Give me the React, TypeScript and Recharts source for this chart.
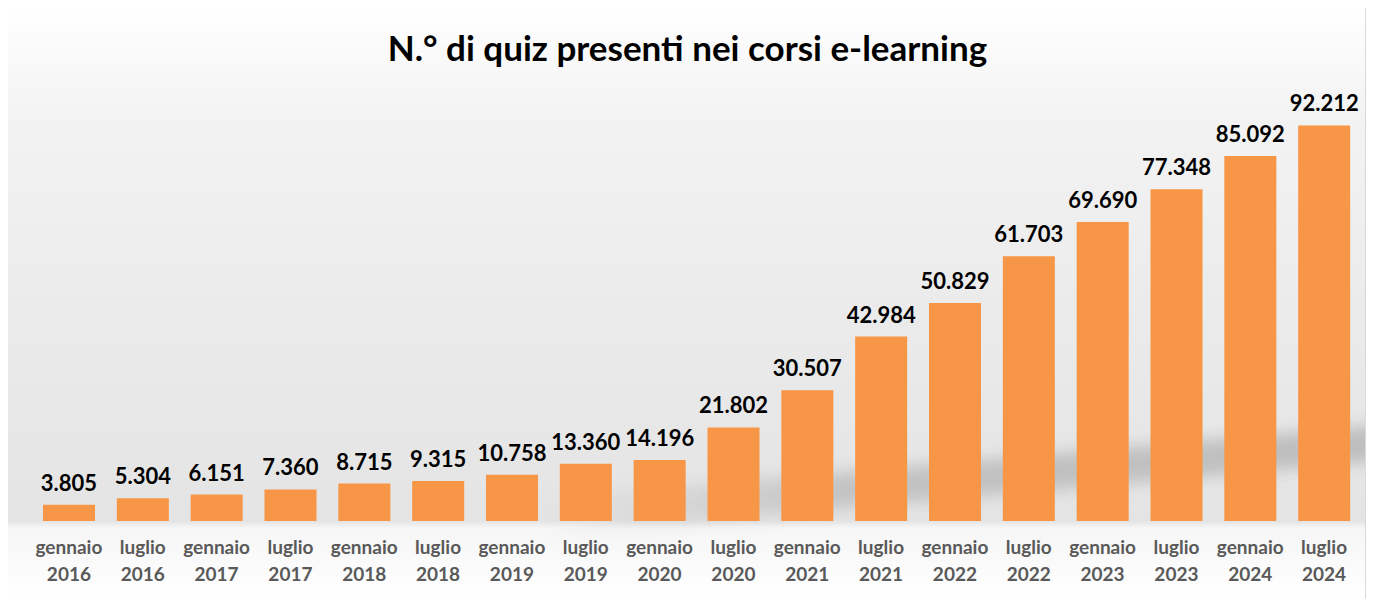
import { BarChart, Bar, XAxis, YAxis, LabelList } from 'recharts'

const months = [
  'gennaio', 'luglio', 'gennaio', 'luglio', 'gennaio', 'luglio', 'gennaio', 'luglio', 'gennaio',
  'luglio', 'gennaio', 'luglio', 'gennaio', 'luglio', 'gennaio', 'luglio', 'gennaio', 'luglio',
]
const years = [
  '2016', '2016', '2017', '2017', '2018', '2018', '2019', '2019', '2020',
  '2020', '2021', '2021', '2022', '2022', '2023', '2023', '2024', '2024',
]
const quizCounts = [
  3805, 5304, 6151, 7360, 8715, 9315, 10758, 13360, 14196,
  21802, 30507, 42984, 50829, 61703, 69690, 77348, 85092, 92212,
]

const data = quizCounts.map((v, i) => ({ key: `${months[i]} ${years[i]}`, idx: i, value: v }))

const fontFamily = 'Lato, "Open Sans", sans-serif'

// "3.805" style thousands separator
const fmt = (v: number) => String(v).replace(/\B(?=(\d{3})+(?!\d))/g, '.')

// eslint-disable-next-line @typescript-eslint/no-explicit-any
function TwoLineTick(props: any) {
  const { x, y, payload } = props
  const i = payload.index
  return (
    <text x={x} y={y} textAnchor="middle" fill="#595959" fontSize={19} fontWeight={700} fontFamily={fontFamily}>
      <tspan x={x} dy={25}>{months[i]}</tspan>
      <tspan x={x} dy={27}>{years[i]}</tspan>
    </text>
  )
}

export default function App() {
  return (
    <div style={{ position: 'relative', width: 1375, height: 607, margin: -8, background: '#fff', overflow: 'hidden' }}>
      <div
        style={{
          position: 'absolute',
          left: 5,
          top: 5,
          width: 1359,
          height: 594,
          border: '1px solid #d9d9d9',
          background:
            'linear-gradient(to bottom, #ffffff 0px, #f3f3f3 110px, #ebebeb 300px, #e4e4e4 515px, #f6f6f6 522px, #ffffff 594px)',
          overflow: 'hidden',
        }}
      >
        <div
          style={{
            position: 'absolute',
            left: 540,
            top: 492,
            width: 900,
            height: 36,
            background: 'linear-gradient(to right, rgba(190,190,190,0) 0%, #c2c2c2 35%, #bdbdbd 100%)',
            filter: 'blur(8px)',
            transform: 'rotate(-5deg)',
            transformOrigin: 'left center',
          }}
        />
      </div>
      <div
        style={{
          position: 'absolute',
          left: 0,
          top: 26,
          width: 1375,
          textAlign: 'center',
          fontFamily,
          fontWeight: 700,
          fontSize: 35,
          color: '#000',
        }}
      >
        N.° di quiz presenti nei corsi e-learning
      </div>
      <div style={{ position: 'absolute', left: 0, top: 0 }}>
        <BarChart
          width={1375}
          height={607}
          data={data}
          margin={{ top: 92, right: 14, bottom: 26, left: 32 }}
        >
          <XAxis
            dataKey="key"
            axisLine={false}
            tickLine={false}
            interval={0}
            height={60}
            tick={<TwoLineTick />}
          />
          <YAxis hide domain={[0, 100000]} />
          <Bar dataKey="value" fill="#F79646" barSize={52} isAnimationActive={false}>
            <LabelList
              dataKey="value"
              position="top"
              offset={14}
              formatter={(v: unknown) => fmt(Number(v))}
              style={{ fill: '#000', fontSize: 22, fontWeight: 700, fontFamily }}
            />
          </Bar>
        </BarChart>
      </div>
    </div>
  )
}
